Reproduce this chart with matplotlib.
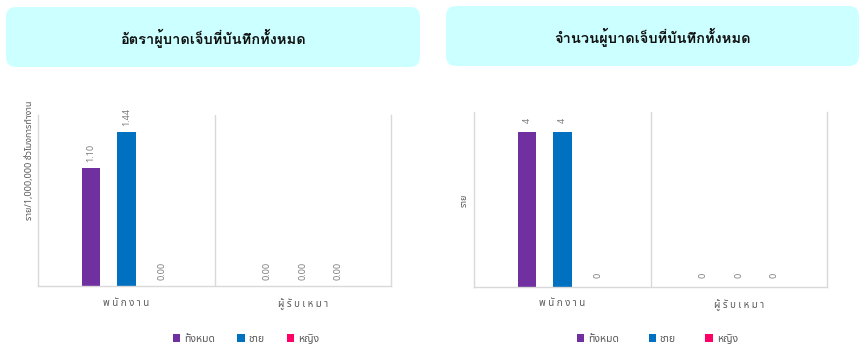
import unicodedata
import matplotlib
matplotlib.use("Agg")
import matplotlib.pyplot as plt
from matplotlib.patches import FancyBboxPatch

# ข้อมูล
categories = ["พนักงาน", "ผู้รับเหมา"]
series_names = ["ทั้งหมด", "ชาย", "หญิง"]
rate_values = [[1.10, 0.00], [1.44, 0.00], [0.00, 0.00]]
count_values = [[4, 0], [4, 0], [0, 0]]
colors = ["#7030A0", "#0070C0", "#FF0066"]

TITLE_FONT = ["Loma", "Noto Sans Thai Looped", "DejaVu Sans"]
TEXT_FONT = ["Noto Sans Thai", "DejaVu Sans"]
GRAY = "#7f7f7f"
DARK = "#595959"
LINE = "#d9d9d9"
W, H = 866, 351


def spaced(s):
    # แยกตามกลุ่มอักขระ (พยัญชนะ + สระ/วรรณยุกต์) แล้วเว้นวรรค
    clusters = []
    for ch in s:
        if clusters and unicodedata.category(ch) == "Mn":
            clusters[-1] += ch
        else:
            clusters.append(ch)
    return " ".join(clusters)


def px_rect(x0, y0, x1, y1):
    return [x0 / W, 1 - y1 / H, (x1 - x0) / W, (y1 - y0) / H]


def draw_panel(fig, bg, box, rect, title, values, ymax, fmt, ylabel, ylabel_xy,
               label_gap, legend_x, col_space):
    x0, y0, x1, y1 = box
    bg.add_patch(FancyBboxPatch((x0 + 10, y0 + 10), x1 - x0 - 20, y1 - y0 - 20,
                                boxstyle="round,pad=10", fc="#ccffff", ec="none"))
    bg.text((x0 + x1) / 2, (y0 + y1) / 2 + 1, title, ha="center", va="center",
            fontsize=10.5, fontweight="bold", family=TITLE_FONT, color="#111111")

    ax = fig.add_axes(px_rect(*rect))
    offsets = [-0.2, 0.0, 0.2]
    handles = []
    for i, name in enumerate(series_names):
        xs = [c + offsets[i] for c in range(len(categories))]
        bars = ax.bar(xs, values[i], width=0.107, color=colors[i], label=name)
        handles.append(bars)
        for x, v in zip(xs, values[i]):
            ax.annotate(fmt.format(v), (x, v), xytext=(0, label_gap),
                        textcoords="offset pixels", rotation=90, ha="center",
                        va="bottom", fontsize=6.5, color=GRAY, family=TEXT_FONT)
    ax.set_xlim(-0.5, len(categories) - 0.5)
    ax.set_ylim(0, ymax)
    ax.axvline(0.5, color=LINE, lw=1)
    for side in ["left", "right", "bottom"]:
        ax.spines[side].set_color(LINE)
        ax.spines[side].set_linewidth(1)
    ax.spines["top"].set_visible(False)
    ax.set_yticks([])
    ax.set_xticks(range(len(categories)))
    ax.set_xticklabels([spaced(c) for c in categories], fontsize=7,
                       color=DARK, family=TEXT_FONT)
    ax.tick_params(axis="x", length=0, pad=9)

    fig.text(ylabel_xy[0] / W, 1 - ylabel_xy[1] / H, ylabel, rotation=90,
             ha="center", va="center", fontsize=6.5, color=DARK, family=TEXT_FONT)

    leg = fig.legend(handles=handles, loc="center left",
                     bbox_to_anchor=(legend_x / W, 1 - 339 / H), ncol=3,
                     frameon=False, fontsize=7.5, handlelength=0.7,
                     handleheight=0.7, handletextpad=0.4,
                     columnspacing=col_space, borderaxespad=0, borderpad=0)
    for t in leg.get_texts():
        t.set_color(DARK)
        t.set_family(TEXT_FONT)


fig = plt.figure(figsize=(W / 100, H / 100), dpi=100)
bg = fig.add_axes([0, 0, 1, 1], zorder=-1)
bg.set_xlim(0, W)
bg.set_ylim(H, 0)
bg.axis("off")

draw_panel(fig, bg, (6, 7, 420, 67), (38, 115, 391, 286),
           "อัตราผู้บาดเจ็บที่บันทึกทั้งหมด", rate_values, 1.6, "{:.2f}",
           "ราย/1,000,000 ชั่วโมงการทำงาน", (30, 160), 6, 173, 2.1)
draw_panel(fig, bg, (446, 6, 859, 66), (474, 112, 827, 287),
           "จำนวนผู้บาดเจ็บที่บันทึกทั้งหมด", count_values, 4.52, "{:d}",
           "ราย", (464, 200), 9, 577, 2.8)

fig.savefig("out.png", dpi=100)
